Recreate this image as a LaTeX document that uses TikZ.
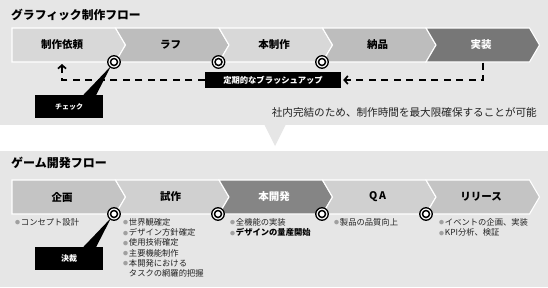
\documentclass[tikz,border=0pt]{standalone}
\usepackage{fontspec}
\usepackage{graphicx}
\setmainfont{Noto Sans CJK JP}
\usetikzlibrary{arrows.meta,calc}
\definecolor{panel}{HTML}{E6E6E6}
\definecolor{tA}{HTML}{D8D8D8}
\definecolor{tB}{HTML}{BDBDBD}
\definecolor{tD}{HTML}{777777}
\definecolor{bA}{HTML}{D0D0D0}
\definecolor{bB}{HTML}{C4C4C4}
\definecolor{bD}{HTML}{858585}
\definecolor{txt}{HTML}{222222}
\definecolor{bul}{HTML}{A0A0A0}
\newcommand\bl{\textcolor{bul}{\raisebox{0.1ex}{\scalebox{0.6}{●}}}\hspace{0.8pt}}
\newcommand\blph{\phantom{\bl}}
\begin{document}
\begin{tikzpicture}[x=1pt,y=-1pt,
  chevlab/.style={font=\bfseries\fontsize{10.5}{12}\selectfont, inner sep=0pt},
  titlelab/.style={font=\bfseries\fontsize{11.8}{14}\selectfont, anchor=west, inner sep=0pt, text=black},
  blist/.style={font=\fontsize{8.3}{10.3}\selectfont, align=left, anchor=north west, inner sep=0pt, text=txt},
  ringout/.style={circle, draw=black, fill=white, line width=1.3pt, minimum size=12.5pt, inner sep=0pt},
  ringin/.style={circle, draw=black, fill=white, line width=1.5pt, minimum size=7pt, inner sep=0pt},
  callout/.style={fill=black, text=white, inner sep=0pt},
  dashline/.style={line width=2.6pt, dash pattern=on 7pt off 5.5pt},
  tip/.style={-{Straight Barb[length=3.5pt,width=8pt,line width=1.7pt]}}
]
\useasboundingbox (0,0) rectangle (548,287);
\fill[panel] (0,0) rectangle (548,287);
\fill[white] (0,125) rectangle (548,151);
\fill[panel] (264,124) -- (286,124) -- (275,146) -- cycle;

% titles
\node[titlelab] (title1) at (11,15) {グラフィック制作フロー};
\node[titlelab, font=\bfseries\fontsize{12}{14}\selectfont] (title2) at (11,163) {ゲーム開発フロー};

% top chevrons
\foreach \i/\col/\lab/\tc in {0/tA/制作依頼/black,1/tB/ラフ/black,2/tA/本制作/black,3/tB/納品/black,4/tD/実装/white}{
  \pgfmathsetmacro\L{12+103.5*\i}
  \ifnum\i=0 \def\nn{0}\else\def\nn{10}\fi
  \filldraw[fill=\col, draw=white, line width=1.1pt] (\L,28) -- ++(103.5,0) -- ++(10,17) -- ++(-10,17) -- ++(-103.5,0) -- ++(\nn,-17) -- cycle;
  \ifnum\i=0 \def\cx{62}\else\pgfmathsetmacro\cx{\L+55}\fi
  \node[chevlab, text=\tc] (t\i) at (\cx,45) {\lab};
}
% bottom chevrons
\foreach \i/\col/\lab/\tc in {0/bB/企画/black,1/bA/試作/black,2/bD/本開発/white,3/bA/Q\,A/black,4/bB/リリース/black}{
  \pgfmathsetmacro\L{12+103.5*\i}
  \ifnum\i=0 \def\nn{0}\else\def\nn{10}\fi
  \filldraw[fill=\col, draw=white, line width=1.1pt] (\L,180) -- ++(103.5,0) -- ++(10,17) -- ++(-10,17) -- ++(-103.5,0) -- ++(\nn,-17) -- cycle;
  \ifnum\i=0 \def\cx{62}\else\pgfmathsetmacro\cx{\L+55}\fi
  \node[chevlab, text=\tc] (b\i) at (\cx,197) {\lab};
}

% callouts
\node[callout, minimum width=68pt, minimum height=23pt, font=\bfseries\fontsize{7}{8}\selectfont] (chk) at (69,106.5) {チェック};
\node[callout, minimum width=68pt, minimum height=23pt, font=\bfseries\fontsize{8}{9}\selectfont] (kes) at (69,258.5) {決裁};
\node[callout, minimum width=136pt, minimum height=16pt, font=\bfseries\fontsize{8.3}{9}\selectfont] (brush) at (273,80) {定期的なブラッシュアップ};

% rings (double circles)
\coordinate (r1) at (114,62);
\coordinate (r2) at (218.5,62);
\coordinate (r3) at (322,62);
\coordinate (s1) at (114,214);
\coordinate (s2) at (218,214);
\coordinate (s3) at (322,214);
\coordinate (s4) at (426,214);

% wedges
\fill[black] ($(chk.north)+(14,0.5)$) -- ($(r1)+(-3,4)$) -- ($(chk.north)+(27,0.5)$) -- cycle;
\fill[black] ($(kes.north)+(14,0.5)$) -- ($(s1)+(-3,4)$) -- ($(kes.north)+(27,0.5)$) -- cycle;

\foreach \c in {r1,r2,r3,s1,s2,s3,s4}{
  \node[ringout] (\c o) at (\c) {};
  \node[ringin] (\c i) at (\c) {};
}

% dashed connectors
\coordinate (jtop) at (483,62.5);
\coordinate (jcor) at (483,80);
\coordinate (lcor) at (62,80);
\coordinate (lend) at (62,64);
\draw[dashline, tip, shorten >=2pt] (jtop) -- (jcor) -- (brush.east);
\draw[dashline, tip] (brush.west) -- (lcor) -- (lend);

% note text
\node[anchor=east, inner sep=0pt, font=\fontsize{10.6}{12}\selectfont, text=txt] (note) at (537,112) {社内完結のため、制作時間を最大限確保することが可能};

% bullet lists
\node[blist] (l0) at (15,218) {\bl コンセプト設計};
\node[blist] (l1) at (123,218) {\bl 世界観確定\\\bl デザイン方針確定\\\bl 使用技術確定\\\bl 主要機能制作\\\bl 本開発における\\\blph タスクの網羅的把握};
\node[blist] (l2) at (230,218) {\bl 全機能の実装\\\bl \textbf{\textcolor{black}{デザインの量産開始}}};
\node[blist] (l3) at (334,218) {\bl 製品の品質向上};
\node[blist] (l4) at (439,218) {\bl イベントの企画、実装\\\bl KPI分析、検証};
\end{tikzpicture}
\end{document}
